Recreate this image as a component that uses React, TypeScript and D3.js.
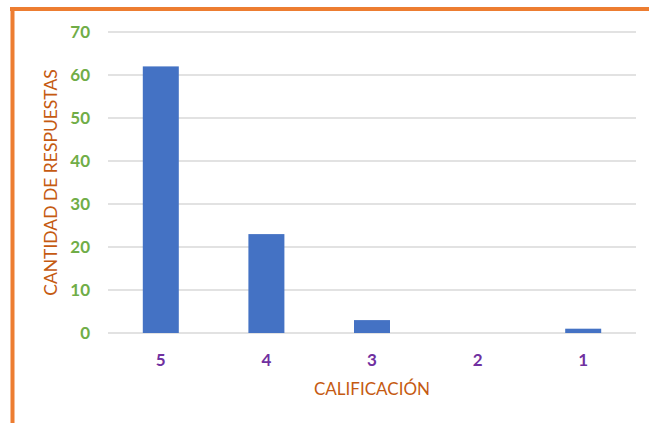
import React from "react";
import * as d3 from "d3";

const categories = ["5", "4", "3", "2", "1"];
const values = [62, 23, 3, 0, 1];
const yTicks = [0, 10, 20, 30, 40, 50, 60, 70];

const W = 649;
const H = 423;
const left = 108;
const right = 636;
const top = 32;
const bottom = 333;
const font = "Lato, 'Open Sans', sans-serif";

export default function App() {
  const y = d3.scaleLinear().domain([0, 70]).range([bottom, top]);
  const band = (right - left) / categories.length;
  const bw = 36;
  const xc = (c: string) => left + band * (categories.indexOf(c) + 0.5);
  return (
    <svg width={W} height={H} style={{ position: "absolute", left: 0, top: 0 }}>
      <rect x={0} y={0} width={W} height={H} fill="#fff" />
      <line x1={10} x2={W} y1={9} y2={9} stroke="#ED7D31" strokeWidth={4} />
      <line x1={12.5} x2={12.5} y1={7} y2={H} stroke="#ED7D31" strokeWidth={4} />
      {yTicks.map((t) => (
        <g key={t}>
          <line x1={left} x2={right} y1={y(t)} y2={y(t)} stroke="#D9D9D9" strokeWidth={1.5} />
          <text x={90} y={y(t)} dy="0.35em" textAnchor="end" fill="#70AD47" fontWeight="bold" fontSize={17} fontFamily={font}>
            {t}
          </text>
        </g>
      ))}
      {categories.map((c, i) => (
        <g key={c}>
          <rect x={xc(c) - bw / 2} y={y(values[i])} width={bw} height={bottom - y(values[i])} fill="#4472C4" />
          <text x={xc(c)} y={360} dy="0.35em" textAnchor="middle" fill="#7030A0" fontWeight="bold" fontSize={17} fontFamily={font}>
            {c}
          </text>
        </g>
      ))}
      <text x={(left + right) / 2} y={389} dy="0.35em" textAnchor="middle" fill="#C55A11" fontSize={17} fontFamily={font}>
        CALIFICACIÓN
      </text>
      <text transform={`translate(51,${(top + bottom) / 2}) rotate(-90)`} dy="0.35em" textAnchor="middle" fill="#C55A11" fontSize={17.5} fontFamily={font}>
        CANTIDAD DE RESPUESTAS
      </text>
    </svg>
  );
}
